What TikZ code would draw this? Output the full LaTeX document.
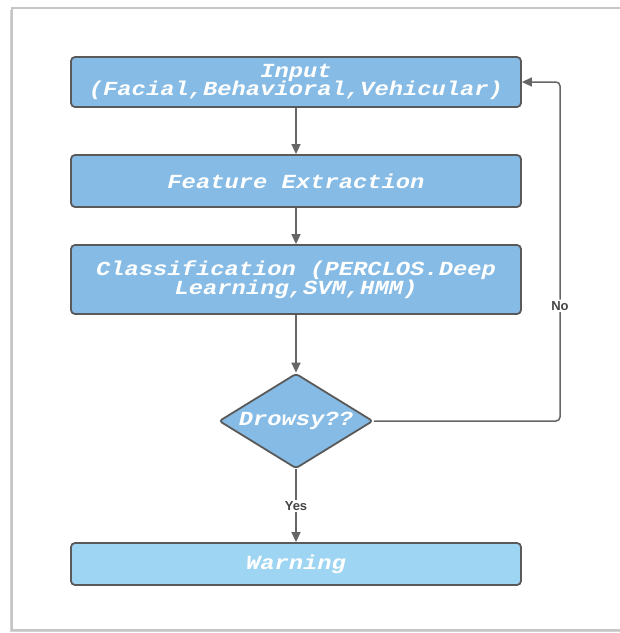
\documentclass[tikz,border=0pt]{standalone}
\usepackage{fontspec}
\usetikzlibrary{arrows.meta,shapes.geometric,shadows}
\newfontfamily\boxfont{Liberation Mono}[FakeStretch=1.19]
\newfontfamily\labfont{Liberation Sans}
\newcommand\tightlines{\lineskiplimit=-20pt\relax}
\definecolor{boxblue}{HTML}{85BBE5}
\definecolor{warnblue}{HTML}{9DD5F2}
\definecolor{edgegray}{HTML}{5A5A5A}
\definecolor{linegray}{HTML}{666666}
\definecolor{labgray}{HTML}{444444}

\begin{document}
\begin{tikzpicture}[x=1pt,y=-1pt]
\tikzset{stage/.style={draw=edgegray, line width=1.8pt, fill=boxblue, rounded corners=4pt,
    minimum width=450pt, align=center, text=white, inner sep=0pt,
    font=\boxfont\bfseries\itshape\fontsize{20}{18.5}\selectfont\tightlines},
  decide/.style={stage, diamond, aspect=1.62, minimum width=154pt, minimum height=95pt,
    rounded corners=3pt},
  flow/.style={draw=linegray, line width=1.5pt, -{Triangle[length=10pt,width=9pt]}},
  answer/.style={fill=white, text=labgray, inner sep=1.5pt,
    font=\labfont\bfseries\fontsize{13}{15}\selectfont}}
\useasboundingbox (0,0) rectangle (620,633);
\draw[gray!45, line width=1.5pt, fill=white,
  drop shadow={shadow xshift=-2pt, shadow yshift=-2pt, opacity=0.35}]
  (12,8) rectangle (640,630);
\node[stage, minimum height=50pt] (input) at (296,82) {Input\\(Facial,Behavioral,Vehicular)};
\node[stage, minimum height=52pt] (feature) at (296,181) {Feature Extraction};
\node[stage, minimum height=69pt] (classify) at (296,279.5) {Classification (PERCLOS.Deep\\Learning,SVM,HMM)};
\node[decide] (drowsy) at (296,421) {Drowsy??};
\node[stage, fill=warnblue, minimum height=42pt] (warning) at (296,564) {Warning};
\coordinate (turn) at (560,421);
\draw[flow] (input) -- (feature);
\draw[flow] (feature) -- (classify);
\draw[flow] (classify) -- (drowsy);
\draw[flow] (drowsy) -- node[answer, pos=0.5] {Yes} (warning);
\draw[flow, rounded corners=4pt] (drowsy.east) -- (turn) -- node[answer, pos=0.34] {No} (turn |- input.east) -- (input.east);
\end{tikzpicture}
\end{document}
